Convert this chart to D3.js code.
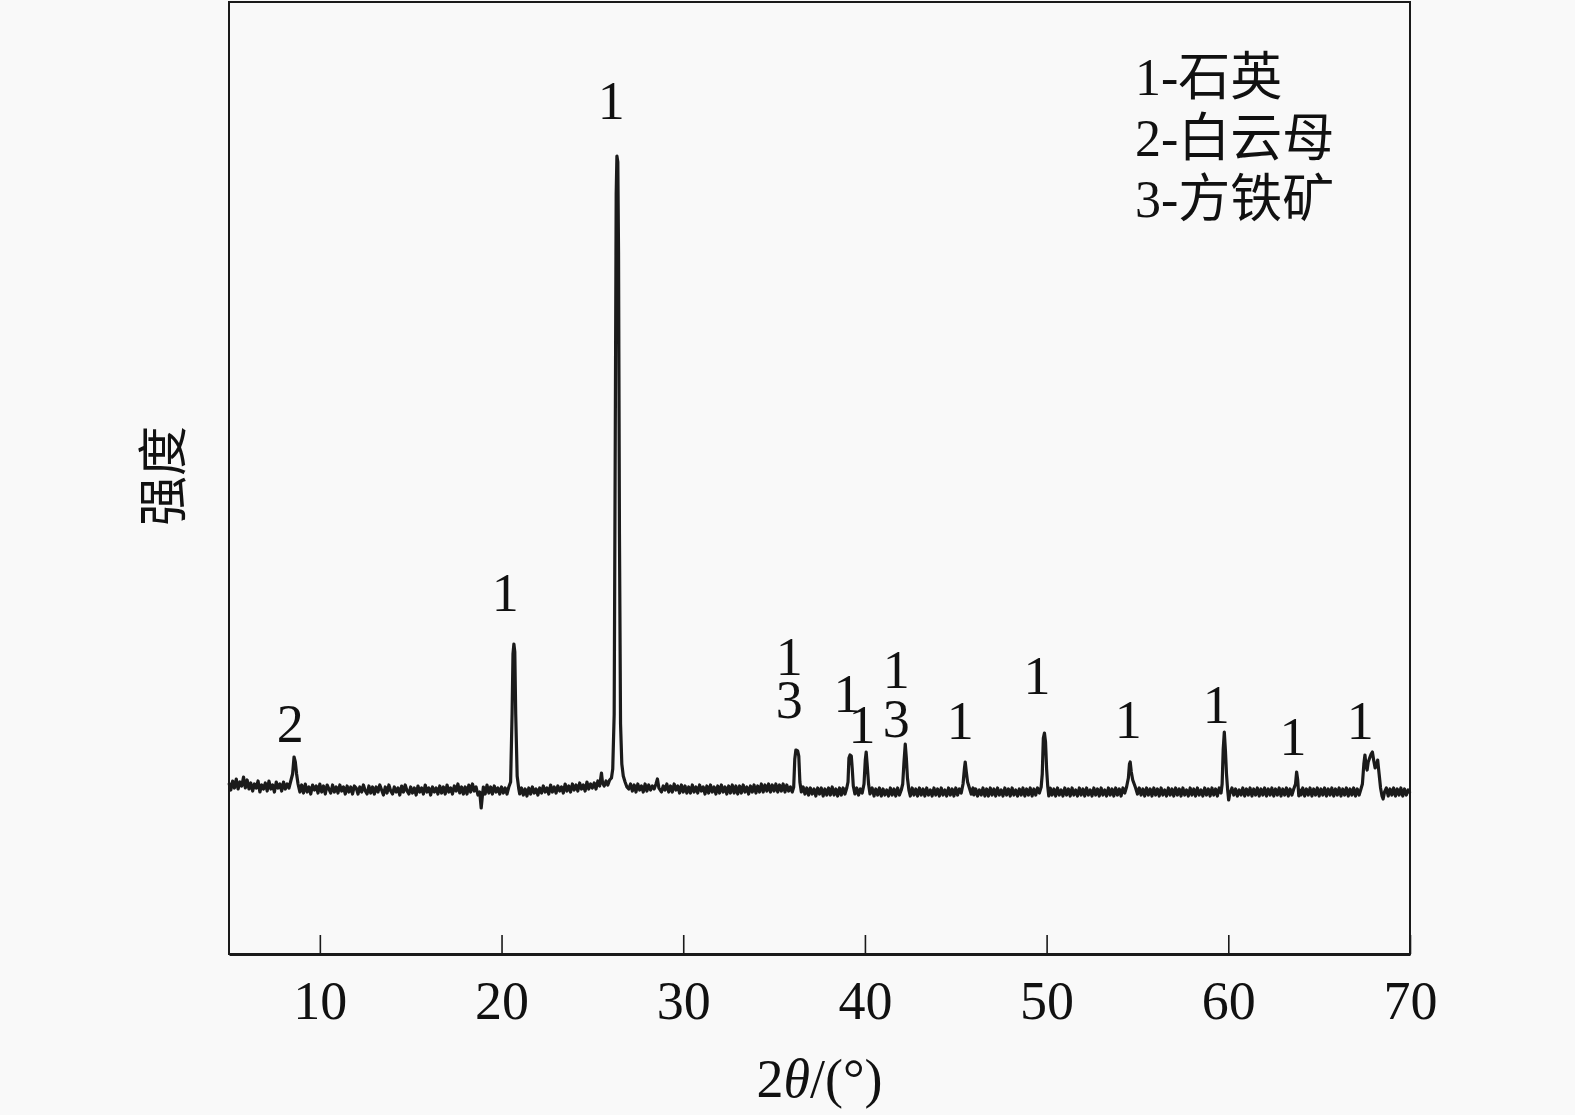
<!DOCTYPE html>
<html><head><meta charset="utf-8">
<script src="https://cdn.jsdelivr.net/npm/d3@7"></script>
<style>
html,body{margin:0;padding:0;background:#f9f9f9;}
svg{display:block;}
text{font-family:"Liberation Serif","Times New Roman","Noto Sans CJK SC",serif;fill:#111;}
</style></head><body>
<svg id="chart" width="1575" height="1115"></svg>
<script>
// X-ray diffraction trace: [2θ (°), intensity (a.u.)]
const xrdTrace = [
[5.0,171],[5.1,164],[5.2,173],[5.3,166],[5.4,175],[5.5,165],[5.6,172],[5.7,168],[5.8,177],[5.9,166],
[6.0,174],[6.1,165],[6.2,171],[6.3,163],[6.4,170],[6.5,166],[6.6,173],[6.7,162],[6.8,169],[6.9,165],
[7.0,171],[7.1,163],[7.2,173],[7.3,165],[7.4,169],[7.5,162],[7.6,172],[7.7,166],[7.8,170],[7.9,163],
[8.0,172],[8.1,165],[8.2,170],[8.3,166],[8.4,173],[8.5,180],[8.58,197],[8.65,192],[8.72,180],[8.8,170],[8.9,162],
[9.0,169],[9.1,161],[9.2,170],[9.3,162],[9.4,167],[9.5,160],[9.6,169],[9.7,164],[9.8,168],[9.9,161],
[10.0,170],[10.1,162],[10.2,168],[10.3,160],[10.4,169],[10.5,165],[10.6,161],[10.7,169],[10.8,162],[10.9,167],
[11.0,161],[11.1,169],[11.2,163],[11.3,167],[11.4,160],[11.5,168],[11.6,162],[11.7,167],[11.8,160],[11.9,168],
[12.0,166],[12.1,160],[12.2,167],[12.3,162],[12.4,169],[12.5,163],[12.6,160],[12.7,168],[12.8,161],[12.9,167],
[13.0,160],[13.1,167],[13.2,162],[13.3,169],[13.4,164],[13.5,159],[13.6,167],[13.7,161],[13.8,169],[13.9,163],
[14.0,160],[14.1,167],[14.2,162],[14.3,166],[14.4,159],[14.5,168],[14.6,162],[14.7,169],[14.8,163],[14.9,160],
[15.0,167],[15.1,161],[15.2,166],[15.3,159],[15.4,168],[15.5,162],[15.6,166],[15.7,160],[15.8,169],[15.9,162],
[16.0,166],[16.1,159],[16.2,167],[16.3,162],[16.4,166],[16.5,160],[16.6,168],[16.7,161],[16.8,167],[16.9,160],
[17.0,169],[17.1,162],[17.2,166],[17.3,160],[17.4,168],[17.5,163],[17.6,170],[17.7,161],[17.8,167],[17.9,160],
[18.0,167],[18.1,160],[18.2,169],[18.3,162],[18.4,170],[18.5,163],[18.6,167],[18.7,159],[18.8,162],[18.88,146],[18.95,159],
[19.0,167],[19.1,160],[19.2,169],[19.3,161],[19.4,167],[19.5,160],[19.6,168],[19.7,162],[19.8,166],[19.9,160],
[20.0,167],[20.1,161],[20.2,166],[20.3,160],[20.4,167],[20.5,172],[20.58,240],[20.63,300],[20.68,310],[20.73,302],[20.78,240],[20.86,178],[20.95,165],
[21.0,160],[21.1,166],[21.2,159],[21.3,165],[21.4,158],[21.5,166],[21.6,160],[21.7,167],[21.8,161],[21.9,165],
[22.0,159],[22.1,166],[22.2,161],[22.3,168],[22.4,162],[22.5,166],[22.6,160],[22.7,169],[22.8,162],[22.9,167],
[23.0,161],[23.1,168],[23.2,163],[23.3,167],[23.4,161],[23.5,170],[23.6,163],[23.7,168],[23.8,162],[23.9,170],
[24.0,164],[24.1,169],[24.2,163],[24.3,171],[24.4,165],[24.5,169],[24.6,163],[24.7,172],[24.8,165],[24.9,170],
[25.0,166],[25.1,171],[25.2,165],[25.3,173],[25.4,168],[25.5,181],[25.56,171],[25.65,168],[25.75,173],[25.85,169],[25.95,174],
[26.05,176],[26.12,185],[26.2,240],[26.26,520],[26.31,760],[26.35,798],[26.4,792],[26.44,700],[26.49,420],[26.55,230],[26.62,190],[26.7,178],[26.8,172],[26.9,167],
[27.0,165],[27.1,170],[27.2,163],[27.3,169],[27.4,162],[27.5,170],[27.6,164],[27.7,168],[27.8,162],[27.9,170],
[28.0,163],[28.1,169],[28.2,164],[28.3,168],[28.4,165],[28.5,170],[28.58,175],[28.66,166],[28.8,162],[28.9,168],
[29.0,164],[29.1,170],[29.2,162],[29.3,168],[29.4,162],[29.5,170],[29.6,164],[29.7,168],[29.8,161],[29.9,169],
[30.0,162],[30.1,168],[30.2,161],[30.3,167],[30.4,161],[30.5,169],[30.6,162],[30.7,167],[30.8,161],[30.9,169],
[31.0,163],[31.1,167],[31.2,160],[31.3,168],[31.4,161],[31.5,169],[31.6,162],[31.7,167],[31.8,160],[31.9,168],
[32.0,161],[32.1,169],[32.2,162],[32.3,167],[32.4,160],[32.5,168],[32.6,161],[32.7,169],[32.8,161],[32.9,168],
[33.0,160],[33.1,168],[33.2,161],[33.3,169],[33.4,162],[33.5,167],[33.6,160],[33.7,168],[33.8,162],[33.9,169],
[34.0,161],[34.1,168],[34.2,162],[34.3,170],[34.4,162],[34.5,169],[34.6,163],[34.7,170],[34.8,162],[34.9,169],
[35.0,163],[35.1,170],[35.2,162],[35.3,169],[35.4,163],[35.5,170],[35.6,162],[35.7,169],[35.8,163],[35.9,167],
[36.0,162],[36.08,167],[36.14,195],[36.2,204],[36.3,203],[36.36,198],[36.42,172],[36.5,162],[36.6,167],[36.7,160],[36.8,166],[36.9,159],
[37.0,166],[37.1,160],[37.2,165],[37.3,158],[37.4,166],[37.5,160],[37.6,166],[37.7,158],[37.8,165],[37.9,159],
[38.0,166],[38.1,159],[38.2,167],[38.3,159],[38.4,165],[38.5,158],[38.6,166],[38.7,159],[38.8,166],[38.9,160],
[39.0,166],[39.07,172],[39.12,196],[39.18,199],[39.25,198],[39.3,186],[39.36,168],[39.45,160],[39.55,166],[39.65,159],[39.75,165],[39.85,161],
[39.95,170],[40.02,194],[40.07,202],[40.13,188],[40.2,170],[40.28,160],[40.4,166],[40.5,158],[40.6,165],[40.7,159],[40.8,166],[40.9,158],
[41.0,165],[41.1,159],[41.2,164],[41.3,158],[41.4,166],[41.5,159],[41.6,165],[41.7,158],[41.8,166],[41.9,159],
[42.0,164],[42.08,170],[42.15,192],[42.22,210],[42.28,196],[42.34,176],[42.42,164],[42.5,158],[42.6,166],[42.7,159],[42.8,165],[42.9,158],
[43.0,166],[43.1,159],[43.2,165],[43.3,158],[43.4,166],[43.5,159],[43.6,164],[43.7,158],[43.8,166],[43.9,159],
[44.0,165],[44.1,158],[44.2,166],[44.3,159],[44.4,164],[44.5,158],[44.6,166],[44.7,159],[44.8,165],[44.9,158],
[45.0,166],[45.1,159],[45.2,165],[45.3,161],[45.4,170],[45.48,186],[45.52,192],[45.58,182],[45.65,172],[45.75,166],[45.85,160],[45.95,166],
[46.0,159],[46.1,165],[46.2,158],[46.3,164],[46.4,159],[46.5,166],[46.6,158],[46.7,165],[46.8,158],[46.9,166],
[47.0,159],[47.1,165],[47.2,158],[47.3,166],[47.4,159],[47.5,164],[47.6,158],[47.7,166],[47.8,159],[47.9,165],
[48.0,158],[48.1,166],[48.2,159],[48.3,164],[48.4,158],[48.5,165],[48.6,159],[48.7,166],[48.8,158],[48.9,165],
[49.0,159],[49.1,166],[49.2,158],[49.3,165],[49.4,159],[49.5,166],[49.6,161],[49.7,167],[49.76,180],[49.82,216],[49.88,221],[49.94,212],[50.0,185],[50.06,168],[50.12,158],
[50.2,166],[50.3,159],[50.4,165],[50.5,158],[50.6,166],[50.7,159],[50.8,164],[50.9,158],
[51.0,166],[51.1,159],[51.2,165],[51.3,158],[51.4,166],[51.5,159],[51.6,164],[51.7,158],[51.8,166],[51.9,159],
[52.0,165],[52.1,158],[52.2,166],[52.3,159],[52.4,164],[52.5,158],[52.6,166],[52.7,159],[52.8,165],[52.9,158],
[53.0,166],[53.1,159],[53.2,164],[53.3,158],[53.4,166],[53.5,159],[53.6,165],[53.7,158],[53.8,166],[53.9,159],
[54.0,165],[54.1,158],[54.2,166],[54.3,161],[54.4,167],[54.5,176],[54.56,190],[54.6,192],[54.66,182],[54.74,174],[54.82,170],[54.9,166],
[55.0,160],[55.1,166],[55.2,159],[55.3,165],[55.4,158],[55.5,166],[55.6,159],[55.7,165],[55.8,158],[55.9,166],
[56.0,159],[56.1,165],[56.2,158],[56.3,166],[56.4,159],[56.5,164],[56.6,158],[56.7,166],[56.8,159],[56.9,165],
[57.0,158],[57.1,166],[57.2,159],[57.3,165],[57.4,158],[57.5,166],[57.6,159],[57.7,164],[57.8,158],[57.9,166],
[58.0,159],[58.1,165],[58.2,158],[58.3,166],[58.4,159],[58.5,164],[58.6,158],[58.7,166],[58.8,159],[58.9,165],
[59.0,158],[59.1,166],[59.2,159],[59.3,165],[59.4,158],[59.5,166],[59.6,161],[59.66,170],[59.72,205],[59.78,222],[59.84,204],[59.9,180],[59.96,165],[60.02,154],[60.08,160],
[60.2,166],[60.3,159],[60.4,165],[60.5,158],[60.6,164],[60.7,159],[60.8,166],[60.9,158],
[61.0,165],[61.1,159],[61.2,166],[61.3,158],[61.4,165],[61.5,159],[61.6,166],[61.7,158],[61.8,165],[61.9,159],
[62.0,166],[62.1,158],[62.2,165],[62.3,159],[62.4,166],[62.5,158],[62.6,165],[62.7,159],[62.8,166],[62.9,158],
[63.0,165],[63.1,159],[63.2,166],[63.3,158],[63.4,165],[63.5,159],[63.6,165],[63.7,170],[63.76,182],[63.82,174],[63.88,158],[63.94,164],
[64.0,159],[64.1,166],[64.2,158],[64.3,165],[64.4,159],[64.5,166],[64.6,158],[64.7,165],[64.8,159],[64.9,166],
[65.0,158],[65.1,165],[65.2,159],[65.3,166],[65.4,158],[65.5,165],[65.6,159],[65.7,166],[65.8,158],[65.9,165],
[66.0,159],[66.1,166],[66.2,158],[66.3,165],[66.4,159],[66.5,166],[66.6,158],[66.7,165],[66.8,159],[66.9,166],
[67.0,158],[67.1,165],[67.2,159],[67.3,165],[67.38,170],[67.46,190],[67.52,199],[67.58,188],[67.64,184],[67.7,192],[67.78,196],[67.86,200],[67.93,202],[68.0,194],[68.08,186],[68.15,188],[68.22,194],[68.3,180],[68.38,166],[68.46,158],[68.52,155],[68.6,162],
[68.7,166],[68.8,158],[68.9,165],[69.0,159],[69.1,166],[69.2,158],[69.3,165],[69.4,159],[69.5,166],[69.6,158],[69.7,165],[69.8,159],[69.9,164],[70.0,161]
];

// Axis ticks
const xTicks = [10, 20, 30, 40, 50, 60, 70];
const xDomain = [5, 70];
const yDomain = [0, 952];

// Peak annotations: anchor 2θ, anchor intensity (text baseline), phase number, group (stacked labels share a group)
const peakLabelTheta     = [8.37, 20.21, 26.04, 35.83, 35.83, 39.01, 39.84, 41.73, 41.73, 45.25, 49.47, 54.49, 59.33, 63.56, 67.26];
const peakLabelIntensity = [212,  343,   835,   279,   236,   242,   211,   266,   217,   215,   260,   216,   231,   199,   215];
const peakLabelText      = ["2", "1",   "1",   "1",   "3",   "1",   "1",   "1",   "3",   "1",   "1",   "1",   "1",   "1",   "1"];
const peakLabelGroup     = [0,    1,     2,     3,     3,     4,     4,     5,     5,     6,     7,     8,     9,     10,    11];

// Phase legend
const legendLines = ["1-石英", "2-白云母", "3-方铁矿"];

const xTitlePrefix = "2", xTitleTheta = "θ", xTitleSuffix = "/(°)";
const yTitle = "强度";

// ---- drawing ----
const svg = d3.select("#chart");
const L = 229, R = 1410, T = 2, B = 954;

const x = d3.scaleLinear().domain(xDomain).range([L, R]);
const y = d3.scaleLinear().domain(yDomain).range([B, T]);

svg.append("rect").attr("width", 1575).attr("height", 1115).attr("fill", "#f9f9f9");

// trace
const line = d3.line().x(d => x(d[0])).y(d => y(d[1]));
svg.append("path").datum(xrdTrace)
  .attr("d", line).attr("fill", "none")
  .attr("stroke", "#1b1b1b").attr("stroke-width", 3.2).attr("stroke-linejoin", "round");

// frame
svg.append("rect").attr("x", L).attr("y", T).attr("width", R - L).attr("height", B - T)
  .attr("fill", "none").attr("stroke", "#1a1a1a").attr("stroke-width", 2);

// x axis
const xAxis = d3.axisBottom(x).tickValues(xTicks).tickSizeInner(-19).tickSizeOuter(0).tickFormat(d3.format("d"));
const gx = svg.append("g").attr("transform", `translate(0,${B})`).call(xAxis);
gx.select(".domain").attr("stroke", "#1a1a1a").attr("stroke-width", 3);
gx.selectAll(".tick line").attr("stroke", "#1a1a1a").attr("stroke-width", 1.6);
gx.selectAll(".tick text").attr("y", 65).attr("dy", null)
  .style("font-size", "54px").style("font-family", "'Liberation Serif', serif").attr("fill", "#111");

// axis titles
const xt = svg.append("text").attr("x", (x(xDomain[0]) + x(xDomain[1])) / 2).attr("y", 1097)
  .attr("text-anchor", "middle").style("font-size", "54px");
xt.append("tspan").text(xTitlePrefix);
xt.append("tspan").style("font-style", "italic").text(xTitleTheta);
xt.append("tspan").text(xTitleSuffix);

svg.append("text").attr("transform", "translate(181,476) rotate(-90)")
  .attr("text-anchor", "middle")
  .style("font-family", "'Noto Sans CJK SC', sans-serif").style("font-size", "50px").text(yTitle);

// peak labels (stacked labels of one peak group share one text element)
const labelIdx = d3.range(peakLabelText.length);
const groups = Array.from(d3.group(labelIdx, i => peakLabelGroup[i]).values());
const lg = svg.append("g");
groups.forEach(members => {
  const t = lg.append("text").attr("text-anchor", "middle").style("font-size", "54px");
  members.forEach(i => {
    t.append("tspan").attr("x", x(peakLabelTheta[i])).attr("y", y(peakLabelIntensity[i])).text(peakLabelText[i]);
  });
});

// legend
svg.append("g").selectAll("text").data(legendLines).join("text")
  .attr("x", 1135).attr("y", (d, i) => 95 + i * 61)
  .style("font-size", "52px")
  .style("font-family", "'Liberation Serif','Noto Sans CJK SC',serif")
  .text(d => d);
</script>
</body></html>
